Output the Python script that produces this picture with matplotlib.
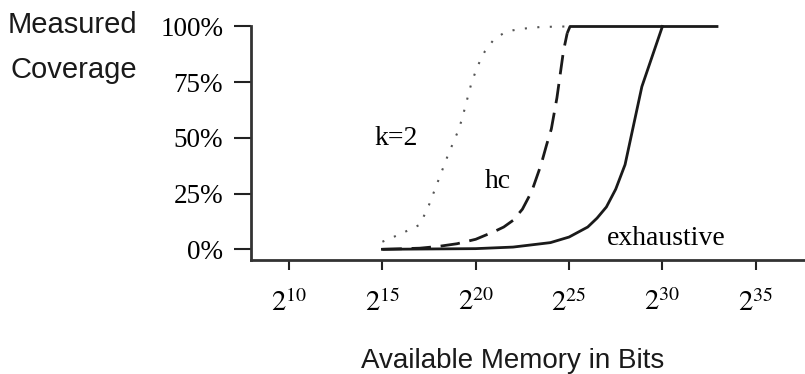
import numpy as np
import matplotlib
matplotlib.use('Agg')
import matplotlib.pyplot as plt

plt.rcParams['font.family'] = 'Liberation Serif'
plt.rcParams['mathtext.fontset'] = 'stix'

# memory exponent (2^x bits) vs measured coverage (%)
k2_exp = [15, 15.5, 16, 16.5, 17, 17.25, 17.5, 18, 18.5, 19, 19.25, 19.5, 19.75,
          20, 20.25, 20.5, 21, 21.5, 22, 22.5, 23.5, 24.8]
k2_cov = [3.4, 5.2, 7, 9, 11, 15.4, 20, 31, 42, 52, 58, 66, 74,
          80, 85, 89, 94.5, 97, 98.3, 99, 99.8, 100]

hc_exp = [15, 17, 18, 19, 20, 21, 21.5, 22, 22.5, 23, 23.5, 23.8, 24.05, 24.2,
          24.35, 24.5, 24.7, 24.9]
hc_cov = [0, 0.5, 1.3, 2.5, 4.5, 8, 10, 13, 18, 26, 38, 47, 54, 61,
          68, 77, 89, 97]

ex_exp = [15, 20, 22, 23, 24, 25, 26, 26.5, 27, 27.5, 28, 28.9, 30]
ex_cov = [0, 0.3, 1, 2, 3, 5.5, 10, 14, 19, 27, 38, 73, 100]

top_exp = [24.9, 25.05, 33]
top_cov = [97, 100, 100]

xticks = [10, 15, 20, 25, 30, 35]
yticks = [0, 25, 50, 75, 100]
ylabels = ['0%', '25%', '50%', '75%', '100%']

fig = plt.figure(figsize=(8.05, 3.74), dpi=100)
ax = fig.add_axes([251/805, 1-260/374, 1-251/805, (260-26.5)/374])

ax.plot(k2_exp, k2_cov, color='#555555', lw=1.5, ls=(0, (1, 5)), clip_on=False)
ax.plot(hc_exp, hc_cov, color='#1a1a1a', lw=2, ls=(0, (7, 3.5)), clip_on=False)
ax.plot(ex_exp, ex_cov, color='#1a1a1a', lw=2, clip_on=False)
ax.plot(top_exp, top_cov, color='#1a1a1a', lw=2, clip_on=False, solid_capstyle='butt')

ax.text(14.6, 46.7, 'k=2', fontsize=20, va='baseline', ha='left')
ax.text(20.5, 27.5, 'hc', fontsize=20, va='baseline', ha='left')
ax.text(27.0, 1.9, 'exhaustive', fontsize=20, va='baseline', ha='left')

ax.set_xlim(7.96, 37.64)
ax.set_ylim(-4.8, 100)
ax.set_xticks(xticks)
ax.set_xticklabels([r'$2^{%d}$' % e for e in xticks], fontsize=20.5)
ax.set_yticks(yticks)
ax.set_yticklabels(ylabels, fontsize=19.5)
ax.tick_params(axis='y', length=12, width=1.5, pad=8, color='#222222')
ax.tick_params(axis='x', length=7, width=1.5, pad=14, color='#222222')
for s in ['top', 'right']:
    ax.spines[s].set_visible(False)
for s in ['left', 'bottom']:
    ax.spines[s].set_linewidth(2)
    ax.spines[s].set_color('#333333')

fig.text(137/805, 1-33/374, 'Measured', family='Liberation Sans', fontsize=21,
         ha='right', va='baseline', color='#1a1a1a')
fig.text(137/805, 1-78/374, 'Coverage', family='Liberation Sans', fontsize=21,
         ha='right', va='baseline', color='#1a1a1a')
fig.text(513/805, 1-368/374, 'Available Memory in Bits', family='Liberation Sans',
         fontsize=20, ha='center', va='baseline', color='#1a1a1a')

fig.savefig('out.png', dpi=100)
